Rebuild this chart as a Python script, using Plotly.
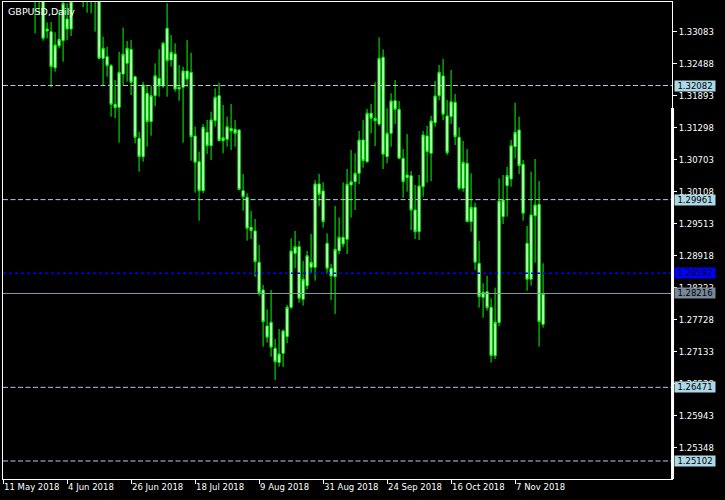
import plotly.graph_objects as go

# ---- data (GBPUSD daily, 11 May 2018 .. 16 Nov 2018), bar index = trading day ----
opens = [1.3535, 1.3545, 1.3563, 1.3495, 1.3525, 1.3505, 1.3460, 1.3440, 1.3425, 1.3380,
         1.3372, 1.33096, 1.33083, 1.32413, 1.32822, 1.32915, 1.33319, 1.33133, 1.3380, 1.3430,
         1.3410, 1.3395, 1.3375, 1.3380, 1.3400, 1.32588, 1.32618, 1.32451, 1.31733, 1.31677,
         1.32296, 1.32495, 1.32755, 1.32246, 1.31101, 1.30759, 1.31938, 1.31410, 1.31893, 1.32216,
         1.32073, 1.33146, 1.32557, 1.32668, 1.32017, 1.32049, 1.32352, 1.32328, 1.31144, 1.30666,
         1.30127, 1.31212, 1.30963, 1.31428, 1.31893, 1.31056, 1.31082, 1.31287, 1.31268, 1.31255,
         1.30127, 1.30004, 1.29446, 1.29378, 1.28796, 1.28281, 1.27612, 1.27681, 1.27197, 1.26933,
         1.27104, 1.27413, 1.27959, 1.28963, 1.29086, 1.28108, 1.28361, 1.28703, 1.28703, 1.30251,
         1.30121, 1.29149, 1.28684, 1.28528, 1.29011, 1.29261, 1.29223, 1.30233, 1.30294, 1.30450,
         1.31069, 1.30666, 1.31566, 1.31473, 1.31367, 1.32607, 1.30759, 1.31194, 1.31800, 1.31640,
         1.30729, 1.30369, 1.30406, 1.29768, 1.29365, 1.30201, 1.31144, 1.30822, 1.31391, 1.31893,
         1.32259, 1.31516, 1.31503, 1.31770, 1.31120, 1.30171, 1.30636, 1.29551, 1.29818, 1.28777,
         1.28145, 1.28249, 1.27959, 1.27060, 1.27673, 1.29644, 1.30220, 1.30344, 1.30945, 1.31255,
         1.30618, 1.29149, 1.28480, 1.29662, 1.29874, 1.27643]
highs = [1.3572, 1.3615, 1.3580, 1.3550, 1.3560, 1.3525, 1.3486, 1.3472, 1.3440, 1.3395,
         1.3385, 1.33257, 1.33263, 1.33072, 1.33486, 1.33700, 1.33610, 1.34100, 1.3460, 1.3473,
         1.3440, 1.3425, 1.3405, 1.3420, 1.3445, 1.32990, 1.32804, 1.32482, 1.32185, 1.32711,
         1.33157, 1.32910, 1.32928, 1.32265, 1.31224, 1.32153, 1.32073, 1.32073, 1.32495, 1.32755,
         1.32897, 1.33611, 1.33021, 1.32867, 1.32464, 1.32432, 1.32928, 1.32692, 1.31317, 1.30852,
         1.31367, 1.31441, 1.31596, 1.32030, 1.32135, 1.31720, 1.31503, 1.31739, 1.31441, 1.31268,
         1.30437, 1.30079, 1.29750, 1.29601, 1.29117, 1.28374, 1.27922, 1.28281, 1.27370, 1.27556,
         1.27547, 1.28002, 1.29242, 1.29378, 1.29192, 1.28820, 1.29006, 1.29322, 1.30326, 1.30437,
         1.30283, 1.29335, 1.28764, 1.29842, 1.29632, 1.30283, 1.30530, 1.30884, 1.30822, 1.31237,
         1.31441, 1.31646, 1.31739, 1.32142, 1.32979, 1.32755, 1.31659, 1.31938, 1.32185, 1.31794,
         1.30902, 1.31181, 1.30493, 1.30233, 1.30419, 1.31237, 1.31330, 1.31521, 1.32166, 1.32464,
         1.32575, 1.31813, 1.32371, 1.31925, 1.31306, 1.31051, 1.30902, 1.30450, 1.29904, 1.29192,
         1.28405, 1.28541, 1.28127, 1.28324, 1.30357, 1.30419, 1.30573, 1.31069, 1.31763, 1.31503,
         1.30698, 1.29471, 1.30480, 1.30716, 1.30307, 1.28777]
lows = [1.3487, 1.3525, 1.3455, 1.3470, 1.3480, 1.3455, 1.3410, 1.3405, 1.33053, 1.33393,
        1.32915, 1.32960, 1.32049, 1.32339, 1.32774, 1.32525, 1.32928, 1.33003, 1.3372, 1.3400,
        1.33536, 1.33436, 1.33425, 1.33083, 1.32570, 1.32092, 1.32246, 1.31503, 1.31473, 1.31019,
        1.32092, 1.32153, 1.31906, 1.31008, 1.30480, 1.30666, 1.30945, 1.31149, 1.31701, 1.31874,
        1.32030, 1.31874, 1.32432, 1.31967, 1.31800, 1.31019, 1.32060, 1.30685, 1.30090, 1.29569,
        1.30079, 1.30809, 1.30698, 1.31317, 1.31051, 1.30822, 1.30945, 1.30884, 1.30945, 1.30145,
        1.29755, 1.29197, 1.29229, 1.28528, 1.28175, 1.27227, 1.27301, 1.27041, 1.26608, 1.26855,
        1.26849, 1.27290, 1.27922, 1.28684, 1.28045, 1.27989, 1.28294, 1.28591, 1.28454, 1.29842,
        1.29439, 1.28578, 1.28095, 1.27835, 1.28950, 1.29075, 1.28950, 1.29625, 1.29768, 1.30251,
        1.30554, 1.30647, 1.31194, 1.30958, 1.31330, 1.30530, 1.30636, 1.30945, 1.31367, 1.30716,
        1.29997, 1.30108, 1.29396, 1.29229, 1.29210, 1.30015, 1.30276, 1.30307, 1.31317, 1.31813,
        1.31441, 1.30791, 1.31367, 1.30976, 1.30140, 1.30108, 1.29545, 1.29365, 1.28653, 1.27952,
        1.27766, 1.27896, 1.26929, 1.26998, 1.27612, 1.29508, 1.29644, 1.30201, 1.30729, 1.30437,
        1.29569, 1.28268, 1.28361, 1.28788, 1.27227, 1.27580]
closes = [1.3538, 1.3563, 1.3495, 1.3525, 1.3505, 1.3470, 1.3440, 1.3425, 1.3380, 1.3372,
          1.32960, 1.33133, 1.32432, 1.32835, 1.32941, 1.33611, 1.33133, 1.33650, 1.3430, 1.3410,
          1.3395, 1.3375, 1.3380, 1.3400, 1.32588, 1.32774, 1.32451, 1.31733, 1.31670, 1.32328,
          1.32663, 1.32774, 1.32142, 1.31120, 1.30759, 1.32092, 1.31410, 1.31893, 1.32265, 1.32073,
          1.32867, 1.32544, 1.32700, 1.32017, 1.32049, 1.32352, 1.32203, 1.31131, 1.30655, 1.30127,
          1.31306, 1.30963, 1.31441, 1.31863, 1.31056, 1.31112, 1.31317, 1.31237, 1.31194, 1.30153,
          1.30015, 1.29428, 1.29383, 1.28807, 1.28231, 1.27692, 1.27402, 1.27216, 1.26948, 1.27091,
          1.27519, 1.27959, 1.29006, 1.29086, 1.28126, 1.28480, 1.28918, 1.28796, 1.30251, 1.30060,
          1.29551, 1.28684, 1.28541, 1.29037, 1.29261, 1.29136, 1.30246, 1.30294, 1.30450, 1.31069,
          1.30685, 1.31566, 1.31473, 1.31428, 1.32588, 1.30804, 1.31194, 1.31794, 1.31640, 1.30729,
          1.30294, 1.30419, 1.29768, 1.29365, 1.30214, 1.31162, 1.30852, 1.31423, 1.31887, 1.32328,
          1.31547, 1.30833, 1.31781, 1.31131, 1.30171, 1.30655, 1.29551, 1.29818, 1.28796, 1.28156,
          1.28238, 1.27952, 1.27060, 1.27681, 1.29935, 1.29954, 1.30410, 1.30963, 1.31213, 1.30592,
          1.29707, 1.28480, 1.29675, 1.29861, 1.27692, 1.28216]

x_tick_index = [0, 16, 32, 48, 64, 80, 96, 112, 128]
x_tick_labels = ["11 May 2018", "4 Jun 2018", "26 Jun 2018", "18 Jul 2018", "9 Aug 2018",
                 "31 Aug 2018", "24 Sep 2018", "16 Oct 2018", "7 Nov 2018"]
y_tick_values = [1.33083, 1.32488, 1.31893, 1.31298, 1.30703, 1.30108, 1.29513, 1.28918,
                 1.28323, 1.27728, 1.27133, 1.26538, 1.25943, 1.25348]
level_lines = [1.32082, 1.29961, 1.26471, 1.25102]
blue_line = 1.28592
bid_line = 1.28216

symbol_title = "GBPUSD,Daily"

x_idx = list(range(len(opens)))

FONT = "DejaVu Sans"
GREEN = "#00FF00"
LEVEL_COL = "#B4CCDA"
LEVEL_BOX = "#ADD8E6"

fig = go.Figure()
fig.add_trace(go.Candlestick(
    x=x_idx, open=opens, high=highs, low=lows, close=closes,
    increasing=dict(line=dict(color=GREEN, width=1), fillcolor="#FFFFFF"),
    decreasing=dict(line=dict(color=GREEN, width=1), fillcolor="#FFFFFF"),
    whiskerwidth=0, showlegend=False, hoverinfo="skip",
))

shapes = []
for lv in level_lines:
    shapes.append(dict(type="line", xref="paper", yref="y", x0=0, x1=1, y0=lv, y1=lv,
                       line=dict(color=LEVEL_COL, width=1, dash="5px,2.5px"), layer="above"))
shapes.append(dict(type="line", xref="paper", yref="y", x0=0, x1=1, y0=blue_line, y1=blue_line,
                   line=dict(color="#0000FF", width=1.3, dash="3px,3px"), layer="above"))
shapes.append(dict(type="line", xref="paper", yref="y", x0=0, x1=1, y0=bid_line, y1=bid_line,
                   line=dict(color="#8A98A6", width=1), layer="above"))
# thick right border segment
shapes.append(dict(type="line", xref="paper", yref="paper", x0=1.0008, x1=1.0008, y0=0, y1=0.778,
                   line=dict(color="#FFFFFF", width=3), layer="above"))

annotations = [dict(text=symbol_title, xref="paper", yref="paper", x=0, y=1, xanchor="left",
                    yanchor="top", xshift=3, yshift=-2, showarrow=False,
                    font=dict(family=FONT, size=9.5, color="#FFFFFF"))]


def price_box(val, bg, fg):
    return dict(text=f"{val:.5f}", xref="paper", yref="y", x=1, y=val, xanchor="left",
                yanchor="middle", xshift=2, showarrow=False, bgcolor=bg, borderpad=0,
                width=40, height=10, font=dict(family=FONT, size=8.5, color=fg))


for lv in level_lines:
    annotations.append(price_box(lv, LEVEL_BOX, "#000000"))
annotations.append(price_box(blue_line, "#0000FF", "#000000"))
annotations.append(price_box(bid_line, "#778899", "#000000"))

fig.update_layout(
    width=725, height=500, autosize=False,
    paper_bgcolor="#000000", plot_bgcolor="#000000",
    margin=dict(l=3, r=53, t=2, b=21),
    boxgap=0.2,
    shapes=shapes, annotations=annotations,
    xaxis=dict(range=[-0.02, 167.23], rangeslider=dict(visible=False), showgrid=False,
               zeroline=False, showline=True, linecolor="#FFFFFF", linewidth=1, mirror=True,
               tickmode="array", tickvals=x_tick_index, ticktext=x_tick_labels,
               ticks="outside", ticklen=4, tickcolor="#FFFFFF", tickwidth=1,
               ticklabelposition="outside right",
               tickfont=dict(family=FONT, size=8.5, color="#FFFFFF")),
    yaxis=dict(range=[1.24767, 1.33635], side="right", showgrid=False, zeroline=False,
               showline=True, linecolor="#FFFFFF", linewidth=1, mirror=True,
               tickmode="array", tickvals=y_tick_values,
               ticktext=[f"{v:.5f}" for v in y_tick_values],
               ticks="outside", ticklen=4, tickcolor="#FFFFFF", tickwidth=1,
               tickfont=dict(family=FONT, size=8.5, color="#FFFFFF")),
)

fig.write_html("out.html", config={"displayModeBar": False},
               post_script="document.body.style.margin='0px';document.body.style.background='#000';")
